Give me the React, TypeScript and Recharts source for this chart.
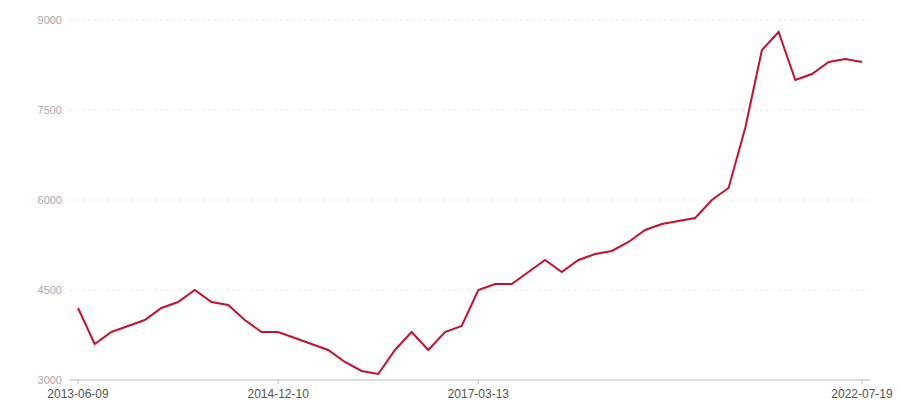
import React from "react"
import { LineChart, Line, XAxis, YAxis, CartesianGrid } from "recharts"

// 48 observations, only a few dates are labelled on the axis
const prices = [
  4200, 3600, 3800, 3900, 4000, 4200, 4300, 4500, 4300, 4250,
  4000, 3800, 3800, 3700, 3600, 3500, 3300, 3150, 3100, 3500,
  3800, 3500, 3800, 3900, 4500, 4600, 4600, 4800, 5000, 4800,
  5000, 5100, 5150, 5300, 5500, 5600, 5650, 5700, 6000, 6200,
  7200, 8500, 8800, 8000, 8100, 8300, 8350, 8300,
]

const tickIndexes = [0, 12, 24, 47]
const tickLabels = ["2013-06-09", "2014-12-10", "2017-03-13", "2022-07-19"]
const yTicks = [3000, 4500, 6000, 7500, 9000]

const data = prices.map((price, i) => ({ idx: i, price }))

export default function App() {
  const fmt = (v: number) => {
    const k = tickIndexes.indexOf(v)
    return k >= 0 ? tickLabels[k] : ""
  }

  return (
    <div style={{ position: "absolute", left: 0, top: 0, width: 900, height: 400, background: "#fff" }}>
      <LineChart
        width={900}
        height={400}
        data={data}
        margin={{ top: 20, right: 30, left: 0, bottom: 0 }}
        style={{ fontFamily: "'Liberation Sans', Arial, sans-serif" }}
      >
        <CartesianGrid vertical={false} strokeDasharray="3 3" stroke="#e8e8e8" />
        <XAxis
          dataKey="idx"
          type="category"
          ticks={tickIndexes}
          tickFormatter={fmt}
          padding={{ left: 8, right: 8 }}
          height={20}
          axisLine={{ stroke: "#dcdcdc", strokeWidth: 2 }}
          tickLine={{ stroke: "#bbb" }}
          tickSize={4}
          tickMargin={5}
          tick={{ fill: "#555", fontSize: 12 }}
          interval={0}
        />
        <YAxis
          domain={[3000, 9000]}
          ticks={yTicks}
          width={70}
          axisLine={false}
          tickLine={false}
          tickSize={0}
          tickMargin={8}
          tick={{ fill: "#aaa", fontSize: 11 }}
        />
        <Line
          type="linear"
          dataKey="price"
          stroke="#c8102e"
          strokeWidth={2}
          dot={false}
          isAnimationActive={false}
        />
      </LineChart>
    </div>
  )
}
